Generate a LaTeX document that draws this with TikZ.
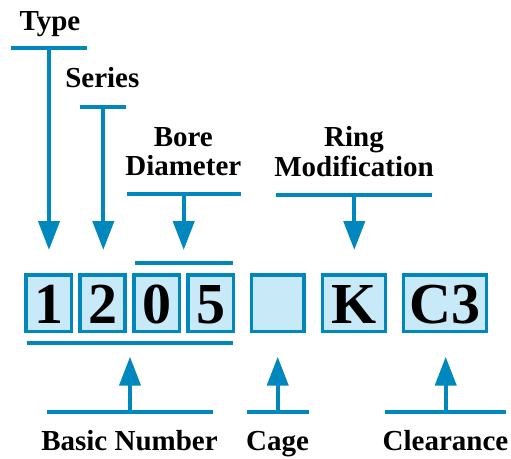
\documentclass[tikz,border=0pt]{standalone}
\usepackage{fontspec}
\setmainfont{Liberation Serif}
\usetikzlibrary{arrows.meta}
\definecolor{dblue}{HTML}{0087BD}
\definecolor{lblue}{HTML}{C7E9F8}
\tikzset{
  lbl/.style={font=\bfseries\fontsize{29}{30}\selectfont, anchor=base, inner sep=0pt},
  cbox/.style={draw=dblue, fill=lblue, line width=3.5pt, inner sep=0pt,
    minimum height=56.5pt, font=\bfseries\fontsize{58}{58}\selectfont,
    text height=40.4pt, text depth=0pt},
  bar/.style={draw=dblue, line width=4.2pt},
  arr/.style={draw=dblue, line width=4.2pt, -{Triangle[width=21pt,length=29pt]}}
}
\begin{document}
\begin{tikzpicture}[x=1pt,y=-1pt]
\useasboundingbox (0,0) rectangle (511,458);
% boxes
\node[cbox, minimum width=45.5pt] (b1) at (48.8,303.3) {1};
\node[cbox, minimum width=44.9pt] (b2) at (102.5,303.3) {2};
\node[cbox, minimum width=45.2pt] (b3) at (156.7,303.3) {0};
\node[cbox, minimum width=45.5pt] (b4) at (210.5,303.3) {5};
\node[cbox, minimum width=52.2pt] (b5) at (277.8,303.3) {};
\node[cbox, minimum width=63.1pt] (b6) at (354,303.3) {K};
\node[cbox, minimum width=83.1pt] (b7) at (445,303.3) {C3};
% top labels
\node[lbl] (type) at (50,30) {Type};
\node[lbl] (series) at (102.3,87) {Series};
\node[lbl] (bore) at (183.3,146.7) {Bore};
\node[lbl] (diam) at (183.3,175.7) {Diameter};
\node[lbl] (ring) at (354,146.7) {Ring};
\node[lbl] (modif) at (354,176) {Modification};
% bottom labels
\node[lbl] (basic) at (129.5,450) {Basic Number};
\node[lbl] (cage) at (277.5,450) {Cage};
\node[lbl] (clear) at (445.5,450) {Clearance};
% coordinates
\coordinate (tL) at (10.7,47.7); \coordinate (tR) at (87.3,47.7); \coordinate (tS) at (49,47.7); \coordinate (tT) at (49,250);
\coordinate (sL) at (80,106.7); \coordinate (sR) at (126,106.7); \coordinate (sS) at (103.3,106.7); \coordinate (sT) at (103.3,250);
\coordinate (dL) at (126.7,194.3); \coordinate (dR) at (240.7,194.3); \coordinate (dS) at (183.7,194.3); \coordinate (dT) at (183.7,250);
\coordinate (rL) at (276,195); \coordinate (rR) at (431.7,195); \coordinate (rS) at (354.3,195); \coordinate (rT) at (354.3,250);
\coordinate (oL) at (135,263.3); \coordinate (oR) at (232.7,263.3);
\coordinate (uL) at (26.7,343.3); \coordinate (uR) at (232.7,343.3);
\coordinate (nL) at (46.7,411.7); \coordinate (nR) at (213.3,411.7); \coordinate (nS) at (130,411.7); \coordinate (nT) at (130,356.7);
\coordinate (cL) at (247.3,411.7); \coordinate (cR) at (309,411.7); \coordinate (cS) at (277.7,411.7); \coordinate (cT) at (277.7,356.7);
\coordinate (kL) at (385,411.7); \coordinate (kR) at (505.7,411.7); \coordinate (kS) at (445.7,411.7); \coordinate (kT) at (445.7,356.7);
% bars
\draw[bar] (tL) -- (tR);
\draw[bar] (sL) -- (sR);
\draw[bar] (dL) -- (dR);
\draw[bar] (rL) -- (rR);
\draw[bar] (oL) -- (oR);
\draw[bar] (uL) -- (uR);
\draw[bar] (nL) -- (nR);
\draw[bar] (cL) -- (cR);
\draw[bar] (kL) -- (kR);
% arrows
\draw[arr] (tS) -- (tT);
\draw[arr] (sS) -- (sT);
\draw[arr] (dS) -- (dT);
\draw[arr] (rS) -- (rT);
\draw[arr] (nS) -- (nT);
\draw[arr] (cS) -- (cT);
\draw[arr] (kS) -- (kT);
\end{tikzpicture}
\end{document}
